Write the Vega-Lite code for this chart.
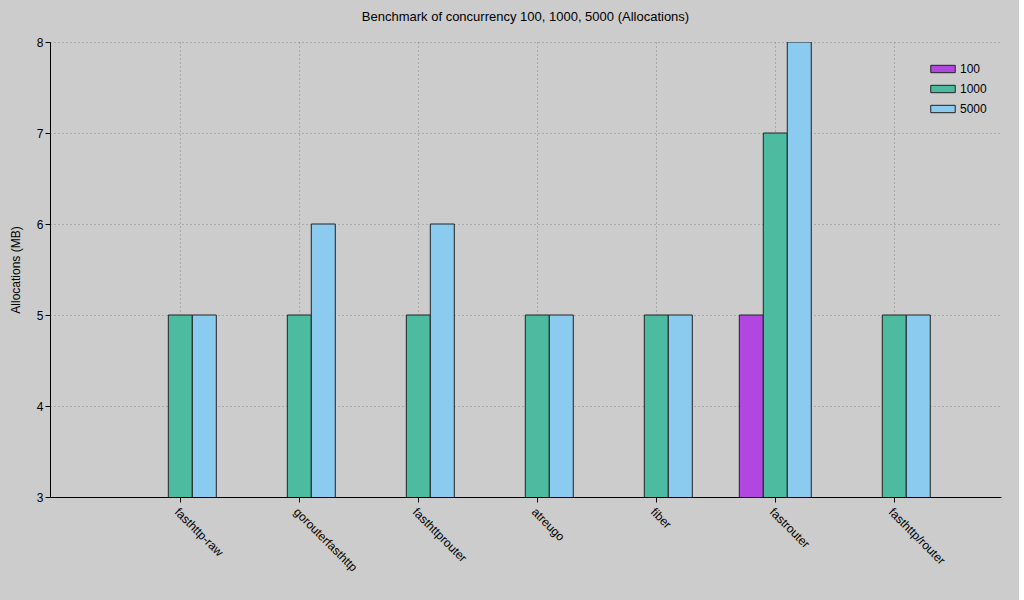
{
  "$schema": "https://vega.github.io/schema/vega-lite/v6.json",
  "width": 951,
  "height": 455,
  "padding": {"left": 9, "top": 11, "right": 18, "bottom": 26},
  "background": "#cccccc",
  "title": {"text": "Benchmark of concurrency 100, 1000, 5000 (Allocations)", "font": "Liberation Sans", "fontSize": 13, "fontWeight": "normal", "color": "#000", "offset": 12},
  "data": {"values": [
    {"router": "fasthttp-raw", "c": "1000", "v": 5},
    {"router": "fasthttp-raw", "c": "5000", "v": 5},
    {"router": "gorouterfasthttp", "c": "1000", "v": 5},
    {"router": "gorouterfasthttp", "c": "5000", "v": 6},
    {"router": "fasthttprouter", "c": "1000", "v": 5},
    {"router": "fasthttprouter", "c": "5000", "v": 6},
    {"router": "atreugo", "c": "1000", "v": 5},
    {"router": "atreugo", "c": "5000", "v": 5},
    {"router": "fiber", "c": "1000", "v": 5},
    {"router": "fiber", "c": "5000", "v": 5},
    {"router": "fastrouter", "c": "100", "v": 5},
    {"router": "fastrouter", "c": "1000", "v": 7},
    {"router": "fastrouter", "c": "5000", "v": 8},
    {"router": "fasthttp/router", "c": "1000", "v": 5},
    {"router": "fasthttp/router", "c": "5000", "v": 5}
  ]},
  "mark": {"type": "bar", "stroke": "#222", "strokeWidth": 1, "clip": true},
  "encoding": {
    "x": {"field": "router", "type": "nominal", "sort": null,
      "scale": {"domain": ["fasthttp-raw", "gorouterfasthttp", "fasthttprouter", "atreugo", "fiber", "fastrouter", "fasthttp/router"], "paddingInner": 0, "paddingOuter": 0.496, "align": 0.6},
      "axis": {"title": null, "labelAngle": 45, "labelAlign": "left", "labelBaseline": "top", "labelFont": "Liberation Sans", "labelFontSize": 12, "labelColor": "#000", "grid": true, "bandPosition": 0.5, "gridDash": [1, 3], "gridColor": "#888", "domainColor": "#000", "tickColor": "#000", "labelPadding": 4}},
    "xOffset": {"field": "c", "type": "nominal", "scale": {"domain": ["100", "1000", "5000"], "paddingOuter": 0.98, "paddingInner": 0}},
    "y": {"field": "v", "type": "quantitative",
      "scale": {"domain": [3, 8], "zero": false, "nice": false},
      "axis": {"title": "Allocations (MB)", "titleFont": "Liberation Sans", "titleFontSize": 12, "titleFontWeight": "normal", "titleColor": "#000", "values": [3, 4, 5, 6, 7, 8], "labelFont": "Liberation Sans", "labelFontSize": 12, "labelColor": "#000", "gridDash": [1, 3], "gridColor": "#888", "domainColor": "#000", "tickColor": "#000", "titlePadding": 14}},
    "color": {"field": "c", "type": "nominal",
      "scale": {"domain": ["100", "1000", "5000"], "range": ["#b146e0", "#4cbb9f", "#8ccbf0"]},
      "legend": {"title": null, "orient": "top-right", "offset": 14, "symbolType": "M-1,-0.3L1,-0.3L1,0.3L-1,0.3Z", "symbolSize": 600, "symbolStrokeColor": "#222", "symbolStrokeWidth": 1, "labelFont": "Liberation Sans", "labelFontSize": 12, "labelColor": "#000", "rowPadding": 1, "fillColor": "#cccccc"}}
  },
  "config": {"view": {"stroke": null}}
}
